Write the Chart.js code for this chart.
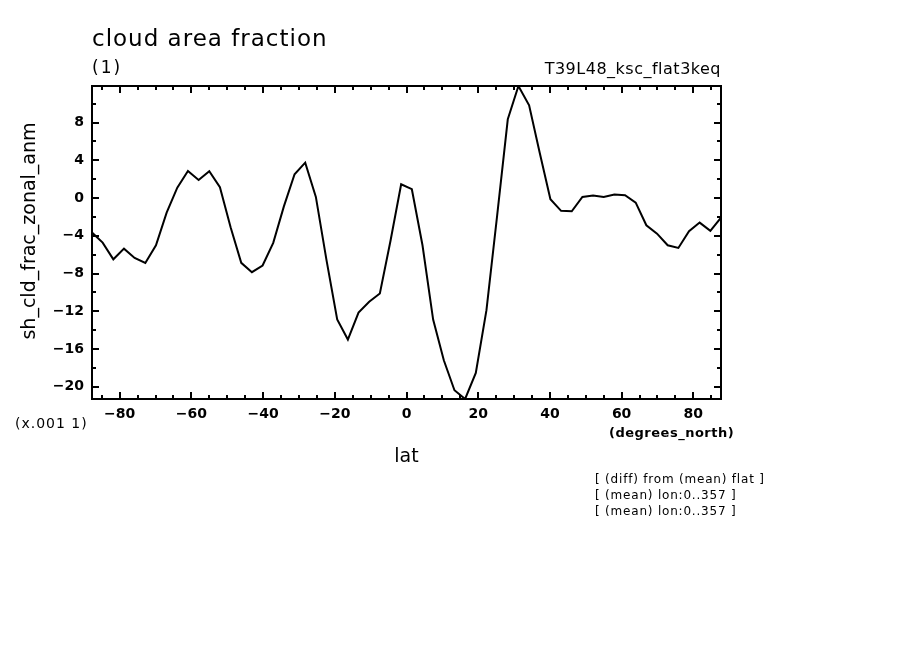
<!DOCTYPE html>
<html>
<head>
<meta charset="utf-8">
<script src="https://cdn.jsdelivr.net/npm/chart.js@4/dist/chart.umd.min.js"></script>
<style>
  html, body { margin: 0; padding: 0; background: #fff; }
  #wrap { width: 904px; height: 654px; }
</style>
</head>
<body>
<div id="wrap"><canvas id="cldChart" width="904" height="654"></canvas></div>
<script>
// Gaussian latitudes (T39, 60 rows)
var lats = [-87.72, -84.75, -81.77, -78.80, -75.83, -72.85, -69.88, -66.90, -63.93, -60.96,
            -57.98, -55.01, -52.04, -49.06, -46.09, -43.12, -40.14, -37.17, -34.20, -31.22,
            -28.25, -25.28, -22.30, -19.33, -16.35, -13.38, -10.41, -7.43, -4.46, -1.49,
            1.49, 4.46, 7.43, 10.41, 13.38, 16.35, 19.33, 22.30, 25.28, 28.25,
            31.22, 34.20, 37.17, 40.14, 43.12, 46.09, 49.06, 52.04, 55.01, 57.98,
            60.96, 63.93, 66.90, 69.88, 72.85, 75.83, 78.80, 81.77, 84.75, 87.72];

// sh_cld_frac_zonal_anm (x.001)
var anm = [-3.66, -4.72, -6.49, -5.36, -6.35, -6.88, -5.0, -1.54, 1.11, 2.88,
           1.92, 2.85, 1.15, -3.09, -6.87, -7.86, -7.15, -4.75, -0.88, 2.52,
           3.76, 0.12, -6.6, -12.87, -15.0, -12.14, -11.0, -10.11, -4.53, 1.46,
           0.94, -5.0, -12.88, -17.19, -20.37, -21.3, -18.54, -11.89, -1.85, 8.35,
           11.88, 9.83, 4.77, -0.12, -1.35, -1.4, 0.12, 0.26, 0.12, 0.37,
           0.3, -0.48, -2.88, -3.77, -5.0, -5.29, -3.52, -2.6, -3.48, -2.07];

var xTicks = [-80, -60, -40, -20, 0, 20, 40, 60, 80];
var yTicks = [-20, -16, -12, -8, -4, 0, 4, 8];
var xMinor = [-85, -75, -70, -65, -55, -50, -45, -35, -30, -25, -15, -10, -5,
              5, 10, 15, 25, 30, 35, 45, 50, 55, 65, 70, 75, 85];
var yMinor = [-18, -14, -10, -6, -2, 2, 6, 10];

var notes = ['[ (diff) from (mean) flat ]', '[ (mean) lon:0..357 ]', '[ (mean) lon:0..357 ]'];

function minus(v) { return String(v).replace('-', '\u2212'); }

// frame + inward ticks
var frameTicks = {
    id: 'frameTicks',
    afterDraw: function(chart) {
        var ctx = chart.ctx, a = chart.chartArea;
        var xs = chart.scales.x, ys = chart.scales.y;
        ctx.save();
        ctx.strokeStyle = '#000';
        ctx.lineWidth = 2;
        ctx.strokeRect(a.left, a.top, a.right - a.left, a.bottom - a.top);
        ctx.beginPath();
        function xt(v, len) {
            var p = Math.round(xs.getPixelForValue(v));
            ctx.moveTo(p, a.bottom); ctx.lineTo(p, a.bottom - len);
            ctx.moveTo(p, a.top); ctx.lineTo(p, a.top + len);
        }
        function yt(v, len) {
            var p = Math.round(ys.getPixelForValue(v));
            ctx.moveTo(a.left, p); ctx.lineTo(a.left + len, p);
            ctx.moveTo(a.right, p); ctx.lineTo(a.right - len, p);
        }
        xTicks.forEach(function(v) { xt(v, 7); });
        xMinor.forEach(function(v) { xt(v, 4); });
        yTicks.forEach(function(v) { yt(v, 7); });
        yMinor.forEach(function(v) { yt(v, 4); });
        ctx.stroke();
        ctx.restore();
    }
};

// titles and annotations
function txt(ctx, s, x, y, font, align, spacing) {
    ctx.font = font;
    ctx.textAlign = align;
    ctx.letterSpacing = (spacing || 0) + 'px';
    ctx.fillText(s, x, y);
}

var labels = {
    id: 'labels',
    afterDraw: function(chart) {
        var ctx = chart.ctx, a = chart.chartArea;
        ctx.save();
        ctx.fillStyle = '#000';
        ctx.textBaseline = 'alphabetic';
        txt(ctx, 'cloud area fraction', 92, 46, '23px "DejaVu Sans"', 'left', 1.0);
        txt(ctx, '(1)', 92, 73, '17px "DejaVu Sans"', 'left', 2);
        txt(ctx, 'T39L48_ksc_flat3keq', a.right, 74, '16px "DejaVu Sans"', 'right', 0.5);
        txt(ctx, '(x.001 1)', 15, 428, '14px "DejaVu Sans"', 'left', 1.0);
        txt(ctx, '(degrees_north)', 609, 437, 'bold 13px "DejaVu Sans"', 'left', 0.5);
        txt(ctx, 'lat', (a.left + a.right) / 2, 462, '19px "DejaVu Sans"', 'center', 0);
        notes.forEach(function(t, i) {
            txt(ctx, t, 595, 483 + i * 16, '12px "DejaVu Sans"', 'left', 0.8);
        });
        ctx.translate(35, 231);
        ctx.rotate(-Math.PI / 2);
        txt(ctx, 'sh_cld_frac_zonal_anm', 0, 0, '19px "DejaVu Sans"', 'center', 0);
        ctx.restore();
    }
};

new Chart(document.getElementById('cldChart').getContext('2d'), {
    type: 'line',
    data: {
        datasets: [{
            data: lats.map(function(la, i) { return { x: la, y: anm[i] }; }),
            borderColor: '#000',
            borderWidth: 2,
            pointRadius: 0,
            tension: 0,
            fill: false
        }]
    },
    options: {
        responsive: false,
        animation: false,
        devicePixelRatio: 1,
        layout: { padding: { left: 0, top: 86, right: 183, bottom: 225 } },
        plugins: { legend: { display: false }, tooltip: { enabled: false } },
        scales: {
            x: {
                type: 'linear',
                min: -87.72,
                max: 87.72,
                afterBuildTicks: function(s) { s.ticks = xTicks.map(function(v) { return { value: v }; }); },
                afterFit: function(s) { s.height = 30; },
                grid: { display: false, drawTicks: false },
                border: { display: false },
                ticks: {
                    padding: 7,
                    color: '#000',
                    maxRotation: 0,
                    font: { family: 'DejaVu Sans', size: 14, weight: 'bold' },
                    callback: function(v) { return minus(v); }
                }
            },
            y: {
                min: -21.3,
                max: 11.88,
                afterBuildTicks: function(s) { s.ticks = yTicks.map(function(v) { return { value: v }; }); },
                afterFit: function(s) { s.width = 92; },
                grid: { display: false, drawTicks: false },
                border: { display: false },
                ticks: {
                    padding: 8,
                    color: '#000',
                    font: { family: 'DejaVu Sans', size: 14, weight: 'bold' },
                    callback: function(v) { return minus(v); }
                }
            }
        }
    },
    plugins: [frameTicks, labels]
});
</script>
</body>
</html>
